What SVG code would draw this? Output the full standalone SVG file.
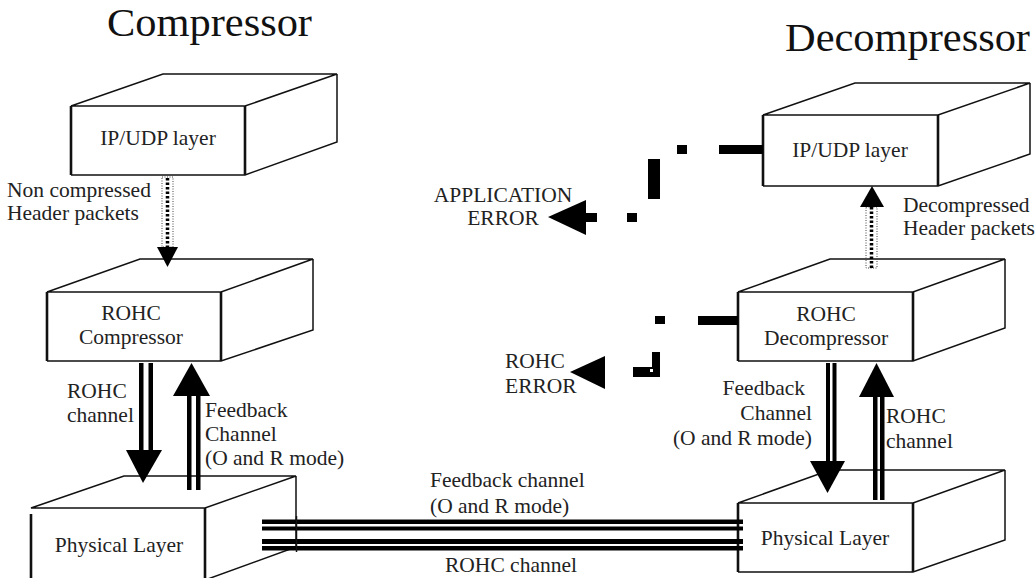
<svg xmlns="http://www.w3.org/2000/svg" width="1036" height="578" viewBox="0 0 1036 578">
<style>
  .t { font-family: "Liberation Serif", "Times New Roman", serif; font-size: 21.5px; fill: #222; }
  .title { font-family: "Liberation Serif", "Times New Roman", serif; font-size: 40px; fill: #111; }
  .box { fill: none; stroke: #111; stroke-width: 1.5; stroke-linejoin: miter; }
  .edge { fill: none; stroke: #111; stroke-width: 2.6; }
  .blk { fill: #000; }
  .dotO { fill: none; stroke: #444; stroke-width: 1; stroke-dasharray: 1 1.5; }
  .dotC { fill: none; stroke: #000; stroke-width: 3.5; stroke-dasharray: 2.5 2; }
</style>
<rect width="1036" height="578" fill="#fff"/>

<g id="title-compressor"><text class="title" x="107" y="36" textLength="205" lengthAdjust="spacingAndGlyphs">Compressor</text></g>
<g id="title-decompressor"><text class="title" x="785" y="51" textLength="245" lengthAdjust="spacingAndGlyphs">Decompressor</text></g>

<g id="comp-ip">
  <path class="box" d="M71,106 L163,74 L337,74 L245,106 Z M337,74 L337,142 L245,175 L71,175"/>
  <path class="edge" d="M71,106 V175 M245,106 V175"/>
  <text class="t" x="158" y="145" text-anchor="middle">IP/UDP layer</text>
</g>

<g id="comp-rohc">
  <path class="box" d="M47,292 L140,259 L313,259 L221,292 Z M313,259 L313,330 L221,361 L47,361"/>
  <path class="edge" d="M47,292 V361 M221,292 V361"/>
  <text class="t" x="131" y="320" text-anchor="middle">ROHC</text>
  <text class="t" x="131" y="344" text-anchor="middle">Compressor</text>
</g>

<g id="comp-phy">
  <path class="box" d="M31,508 L124,476 L296,476 L205,508 Z M296,476 L296,547 L205,580"/>
  <path class="edge" d="M31,514 V580 M205,508 V580"/>
  <text class="t" x="119" y="552" text-anchor="middle">Physical Layer</text>
</g>

<g id="decomp-ip">
  <path class="box" d="M763,115 L855,83 L1030,83 L938,115 Z M1030,83 L1030,154 L938,186 L763,186"/>
  <path class="edge" d="M763,115 V186 M938,115 V186"/>
  <text class="t" x="850" y="157" text-anchor="middle">IP/UDP layer</text>
</g>

<g id="decomp-rohc">
  <path class="box" d="M738,292 L830,259 L1005,259 L913,292 Z M1005,259 L1005,328 L913,361 L738,361"/>
  <path class="edge" d="M738,292 V361 M913,292 V361"/>
  <text class="t" x="826" y="321" text-anchor="middle">ROHC</text>
  <text class="t" x="826" y="345" text-anchor="middle">Decompressor</text>
</g>

<g id="decomp-phy">
  <path class="box" d="M738,503 L830,470 L1005,470 L913,503 Z M1005,470 L1005,540 L913,572 L738,572"/>
  <path class="edge" d="M738,503 V572 M913,503 V572"/>
  <text class="t" x="825" y="545" text-anchor="middle">Physical Layer</text>
</g>

<g id="app-error">
  <text class="t" x="503" y="202" text-anchor="middle">APPLICATION</text>
  <text class="t" x="503" y="225" text-anchor="middle">ERROR</text>
</g>

<g id="rohc-error">
  <text class="t" x="505" y="368">ROHC</text>
  <text class="t" x="505" y="393">ERROR</text>
</g>

<g id="connectors">
  <rect class="dotO" x="162" y="177" width="11" height="70"/>
  <line class="dotC" x1="167.5" y1="178" x2="167.5" y2="247"/>
  <polygon class="blk" points="157,247 178,247 167.5,267"/>
  <rect class="dotO" x="866" y="207" width="11" height="61"/>
  <line class="dotC" x1="871.5" y1="268" x2="871.5" y2="207"/>
  <polygon class="blk" points="860,207 884,207 872,186"/>

  <rect class="blk" x="139" y="363" width="4.5" height="89"/>
  <rect class="blk" x="148.5" y="363" width="4.5" height="89"/>
  <polygon class="blk" points="126,450 162,450 143,483"/>
  <rect class="blk" x="187" y="394" width="4.5" height="96"/>
  <rect class="blk" x="196" y="394" width="4.5" height="96"/>
  <polygon class="blk" points="173,396 210,396 191.5,363"/>
  <rect class="blk" x="826" y="363" width="4" height="100"/>
  <rect class="blk" x="832.5" y="363" width="4" height="100"/>
  <polygon class="blk" points="810,461 845,461 827.5,493"/>
  <rect class="blk" x="873" y="395" width="4.5" height="105"/>
  <rect class="blk" x="880" y="395" width="4.5" height="105"/>
  <polygon class="blk" points="859,397 894,397 876.5,363"/>

  <rect class="blk" x="262" y="519.5" width="481" height="4.5"/>
  <rect class="blk" x="262" y="526.5" width="481" height="4"/>
  <rect class="blk" x="262" y="539" width="481" height="5"/>
  <rect class="blk" x="262" y="546" width="481" height="4.5"/>
  <line x1="296.5" y1="516" x2="296.5" y2="552" stroke="#111" stroke-width="1.5"/>

  <rect class="blk" x="719" y="145" width="44" height="9"/>
  <rect class="blk" x="677" y="145" width="10" height="9"/>
  <rect class="blk" x="648" y="159" width="12" height="40"/>
  <rect class="blk" x="627" y="213" width="10" height="9"/>
  <rect class="blk" x="585" y="213" width="12" height="9"/>
  <polygon class="blk" points="548,217 586,200 586,235"/>

  <rect class="blk" x="698" y="316" width="40" height="9"/>
  <rect class="blk" x="655" y="316" width="10" height="8"/>
  <path class="blk" d="M652,352 H660 V377 H633 V367 H652 Z"/>
  <rect x="650" y="369" width="3" height="3" fill="#fff"/>
  <polygon class="blk" points="570,372 605,356 605,389"/>
</g>

<g id="labels">
  <text class="t" x="7" y="197">Non compressed</text>
  <text class="t" x="7" y="220">Header packets</text>
  <text class="t" x="67" y="398">ROHC</text>
  <text class="t" x="67" y="422">channel</text>
  <text class="t" x="205" y="417">Feedback</text>
  <text class="t" x="205" y="441">Channel</text>
  <text class="t" x="205" y="465">(O and R mode)</text>
  <text class="t" x="430" y="487">Feedback channel</text>
  <text class="t" x="430" y="513">(O and R mode)</text>
  <text class="t" x="445" y="572">ROHC channel</text>
  <text class="t" x="903" y="212">Decompressed</text>
  <text class="t" x="903" y="235">Header packets</text>
  <text class="t" x="805" y="395" text-anchor="end">Feedback</text>
  <text class="t" x="812" y="420" text-anchor="end">Channel</text>
  <text class="t" x="812" y="445" text-anchor="end">(O and R mode)</text>
  <text class="t" x="886" y="423">ROHC</text>
  <text class="t" x="886" y="448">channel</text>
</g>
</svg>
